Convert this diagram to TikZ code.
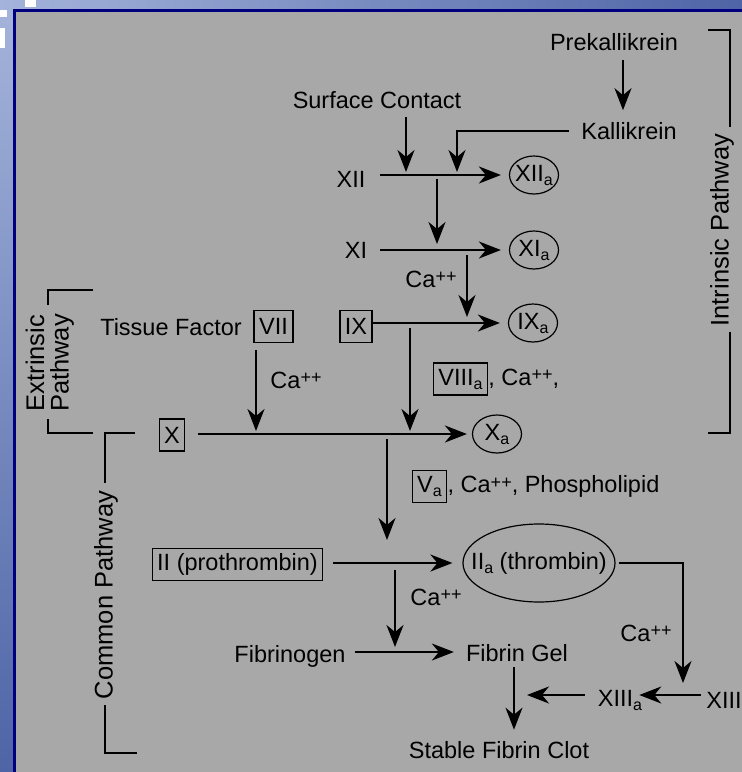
\documentclass[tikz,border=0pt]{standalone}
\usepackage{fontspec}
\setmainfont{Liberation Sans}
\usetikzlibrary{arrows.meta,shapes.geometric}
\definecolor{bg}{HTML}{A8A8A8}
\definecolor{bluel}{HTML}{A3B3DA}
\definecolor{blued}{HTML}{4E64A6}
\definecolor{navyb}{HTML}{00007E}
\newcommand\mysub[1]{\raisebox{-4pt}{\fontsize{16}{16}\selectfont #1}}
\newcommand\myplus{\raisebox{4.5pt}{\fontsize{18}{18}\selectfont ++}}
\newcommand\myca{Ca\myplus}
\begin{document}
\begin{tikzpicture}[x=1pt,y=-1pt,
  txt/.style={inner sep=0pt,font=\fontsize{23.5}{28}\selectfont},
  lab/.style={inner sep=0pt,font=\fontsize{25.5}{30}\selectfont,rotate=90},
  boxn/.style={draw,line width=1.3pt,inner xsep=5pt,inner ysep=0pt,minimum height=32pt,font=\fontsize{23.5}{28}\selectfont},
  ell/.style={draw,ellipse,line width=1.2pt,inner xsep=-4pt,inner ysep=-4pt,minimum width=49pt,minimum height=38pt,font=\fontsize{23.5}{28}\selectfont},
  arr/.style={line width=2.2pt,-{Stealth[length=22pt,width=17pt,inset=7pt]}},
  brk/.style={line width=1.8pt}]
\useasboundingbox (0,0) rectangle (742,772);
% slide background
\shade[left color=bluel,right color=blued] (0,0) rectangle (742,10);
\shade[top color=bluel,bottom color=blued] (0,10) rectangle (14,772);
\fill[white] (25,0) rectangle (36,7);
\fill[white] (0,10) rectangle (7,17);
\fill[white] (0,28) rectangle (5,48);
\fill[bg] (14,10) rectangle (742,772);
\draw[navyb,line width=3pt] (14.6,772) -- (14.6,10) -- (742,10);

% nodes
\node[txt] (prek) at (614,42) {Prekallikrein};
\node[txt] (kal) at (629,131) {Kallikrein};
\node[txt] (surf) at (377,100) {Surface Contact};
\node[txt] (xii) at (351,179) {XII};
\node[ell] (xiia) at (534,175) {XII\mysub{a}};
\node[txt] (xi) at (356,250) {XI};
\node[ell] (xia) at (534,250) {XI\mysub{a}};
\node[txt] (ca1) at (431,279) {\myca};
\node[txt] (tf) at (171,327) {Tissue Factor};
\node[boxn] (vii) at (273.5,326.5) {VII};
\node[boxn] (ix) at (356,326.5) {IX};
\node[ell] (ixa) at (533,323) {IX\mysub{a}};
\node[txt] (ca2) at (296,380) {\myca};
\node[boxn] (viiia) at (460.5,379) {VIII\mysub{a}};
\node[txt,anchor=base west] (viiiatxt) at (viiia.base east) {, \myca,};
\node[boxn] (x) at (172,435) {X};
\node[ell] (xa) at (497,434) {X\mysub{a}};
\node[boxn] (va) at (429.5,486.5) {V\mysub{a}};
\node[txt,anchor=base west] (vatxt) at (va.base east) {, \myca, Phospholipid};
\node[boxn] (ii) at (237.5,564.5) {II (prothrombin)};
\node[ell,inner xsep=-20pt,minimum width=152pt,minimum height=78pt] (iia) at (539,563) {II\mysub{a} (thrombin)};
\node[txt] (ca3) at (436,597) {\myca};
\node[txt] (fbg) at (290,656) {Fibrinogen};
\node[txt] (fgel) at (517,653.5) {Fibrin Gel};
\node[txt] (ca4) at (646,633) {\myca};
\node[txt] (xiii) at (724,700) {XIII};
\node[txt] (xiiia) at (620,700) {XIII\mysub{a}};
\node[txt] (sfc) at (499,750) {Stable Fibrin Clot};
\node[lab] (ext1) at (35,363) {Extrinsic};
\node[lab] (ext2) at (62,363) {Pathway};
\node[lab] (intr) at (722,230) {Intrinsic Pathway};
\node[lab] (comm) at (106,595) {Common Pathway};

% junction coordinates
\coordinate (jSC) at (406,175);
\coordinate (jK) at (457,175);
\coordinate (jXII) at (380,175);
\coordinate (j12a) at (437,175);
\coordinate (j12b) at (437,250);
\coordinate (jXI) at (380,250);
\coordinate (j11a) at (467,250);
\coordinate (j11b) at (467,323);
\coordinate (j9a) at (410,323);
\coordinate (j9b) at (410,434);
\coordinate (j7) at (256,434);
\coordinate (j10a) at (387,434);
\coordinate (j10b) at (387,563);
\coordinate (j2a) at (395,563);
\coordinate (j2b) at (395,653);
\coordinate (jFb) at (355,652);
\coordinate (jXIII) at (683,695);
\coordinate (jFG) at (514,695);

% connectors
\draw[arr,shorten <=9pt,shorten >=12pt] ([xshift=9pt]prek.south) -- ([xshift=-6pt]kal.north);
\draw[arr,shorten <=8pt,shorten >=3pt] ([xshift=29pt]surf.south) -- (jSC);
\draw[arr,shorten <=12pt,shorten >=3pt] (kal.west) -| (jK);
\draw[arr,shorten >=8pt] (jXII) -- (xiia.west);
\draw[arr,shorten <=4pt,shorten >=6pt] (j12a) -- (j12b);
\draw[arr,shorten >=8pt] (jXI) -- (xia.west);
\draw[arr,shorten <=5pt,shorten >=6pt] (j11a) -- (j11b);
\draw[arr,shorten >=8pt] (ix.east |- ixa.west) -- (ixa.west);
\draw[arr,shorten <=5pt,shorten >=3pt] (j9a) -- (j9b);
\draw[arr,shorten <=7pt,shorten >=3pt] ([xshift=-17.5pt]vii.south) -- (j7);
\draw[arr,shorten <=13pt,shorten >=5pt] (x.east |- xa.west) -- (xa.west);
\draw[arr,shorten <=5pt,shorten >=23pt] (j10a) -- (j10b);
\draw[arr,shorten <=10pt,shorten >=10pt] (ii.east |- iia.west) -- (iia.west);
\draw[arr,shorten <=7pt,shorten >=6pt] (j2a) -- (j2b);
\draw[arr,shorten >=12pt] (jFb) -- (jFb -| fgel.west);
\draw[arr,shorten <=5pt,shorten >=11.5pt] ([xshift=-3pt]fgel.south) -- ([xshift=15pt]sfc.north);
\draw[arr,shorten <=3pt,shorten >=12pt] (iia.east) -| (jXIII);
\draw[arr,shorten <=5pt,shorten >=-3pt] (xiii.west |- jXIII) -- (xiiia.east |- jXIII);
\draw[arr,shorten <=13pt,shorten >=13pt] (xiiia.west |- jFG) -- (jFG);

% brackets
\draw[brk] (708,30) -- (730,30) -- (730,127);
\draw[brk] (730,332) -- (730,433) -- (708,433);
\draw[brk] (93,290) -- (48,290) -- (48,305);
\draw[brk] (48,419) -- (48,433) -- (93,433);
\draw[brk] (135,433) -- (105,433) -- (105,483);
\draw[brk] (105,705) -- (105,753) -- (137,753);
\end{tikzpicture}
\end{document}
